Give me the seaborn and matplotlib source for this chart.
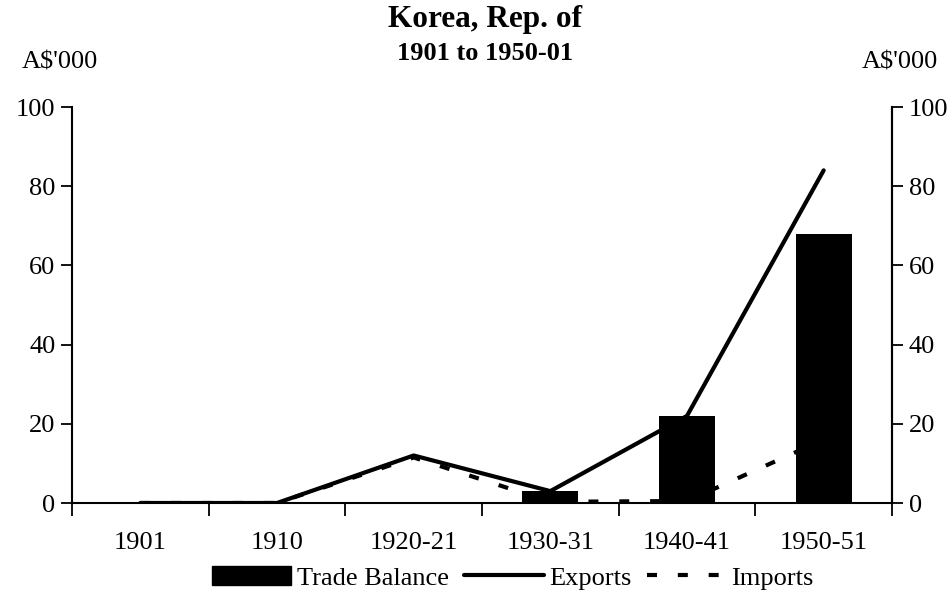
import numpy as np
import pandas as pd
import matplotlib
matplotlib.use("Agg")
import matplotlib.pyplot as plt
from matplotlib.patches import Patch
from matplotlib.lines import Line2D
import seaborn as sns

categories = ["1901", "1910", "1920-21", "1930-31", "1940-41", "1950-51"]
trade_balance = [0, 0, 0, 3, 22, 68]
exports = [0, 0, 12, 3, 22, 84]
imports = [0, 0, 11.5, 0.3, 0.5, 16]

sns.set_theme(style="white")
plt.rcParams['font.family'] = ['Liberation Serif', 'DejaVu Serif']
for k in ["text.color", "axes.labelcolor", "xtick.color", "ytick.color", "axes.edgecolor"]:
    plt.rcParams[k] = "black"

FS = 19
LW = 3.0

fig = plt.figure(figsize=(9.51, 5.92), dpi=100)
ax = fig.add_axes([72/951, 1-503/592, (892-72)/951, (503-107)/592])

df = pd.DataFrame({"cat": categories, "tb": trade_balance,
                   "x": np.arange(len(categories)), "exp": exports, "imp": imports})

sns.barplot(data=df, x="cat", y="tb", color="black", width=0.41, ax=ax,
            saturation=1, edgecolor="black", linewidth=0)
sns.lineplot(data=df, x="x", y="exp", color="black", lw=LW, ax=ax)
sns.lineplot(data=df, x="x", y="imp", color="black", lw=LW, ax=ax)
ax.lines[-1].set_dashes([2.4, 5.0])
ax.lines[-1].set_dash_capstyle("butt")

ax.set_xlim(-0.5, len(categories) - 0.5)
ax.set_ylim(0, 100)
ax.set_xlabel("")
ax.set_ylabel("")
ax.set_yticks(np.arange(0, 101, 20))
ax.tick_params(axis="y", labelsize=FS, length=8, width=1.3, direction="out", left=True, pad=4, colors="black")
ax.set_xticks(np.arange(len(categories) + 1) - 0.5)
ax.set_xticklabels([])
ax.set_xticks(np.arange(len(categories)), minor=True)
ax.set_xticklabels(categories, minor=True, fontsize=FS)
ax.tick_params(axis="x", which="major", length=9, width=1.3, direction="out", bottom=True, colors="black")
ax.tick_params(axis="x", which="minor", length=0, pad=21, labelsize=FS, colors="black")

for s in ["left", "bottom", "right"]:
    ax.spines[s].set_visible(True)
    ax.spines[s].set_color("black")
    ax.spines[s].set_linewidth(1.5)
ax.spines["top"].set_visible(False)

ax2 = ax.twinx()
ax2.set_ylim(0, 100)
ax2.set_yticks(np.arange(0, 101, 20))
ax2.tick_params(axis="y", labelsize=FS, length=8, width=1.3, direction="out", right=True, pad=4, colors="black")
for s in ["left", "bottom", "top"]:
    ax2.spines[s].set_visible(False)
ax2.spines["right"].set_color("black")
ax2.spines["right"].set_linewidth(1.5)
ax2.grid(False)
ax.grid(False)

fig.text(485/951, 1-20/592, "Korea, Rep. of", ha="center", va="center", fontsize=22.5, fontweight="bold")
fig.text(485/951, 1-53/592, "1901 to 1950-01", ha="center", va="center", fontsize=19, fontweight="bold")
fig.text(60/951, 1-63/592, "A$'000", ha="center", va="center", fontsize=FS)
fig.text(900/951, 1-63/592, "A$'000", ha="center", va="center", fontsize=FS)

handles = [Patch(facecolor="black", edgecolor="black"),
           Line2D([], [], color="black", lw=LW),
           Line2D([], [], color="black", lw=LW, dashes=[2.4, 5.0], dash_capstyle="butt")]
leg = fig.legend(handles, ["Trade Balance", "Exports", "Imports"], loc="center",
                 bbox_to_anchor=(513/951, 1-578/592), ncol=3, frameon=False,
                 fontsize=FS, handlelength=3.0, handleheight=0.75,
                 handletextpad=0.2, columnspacing=0.6, borderpad=0, borderaxespad=0)

fig.savefig("out.png", dpi=100)
